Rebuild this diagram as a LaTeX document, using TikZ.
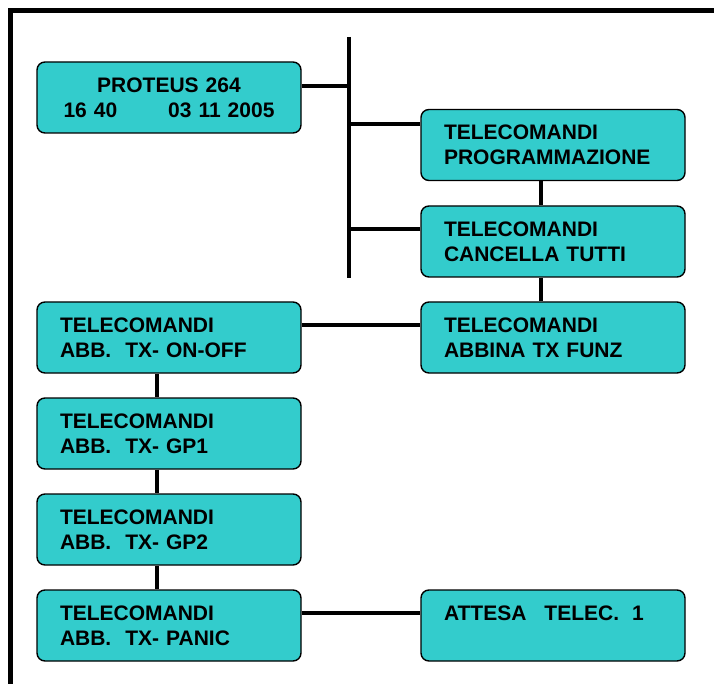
\documentclass[tikz,border=0pt]{standalone}
\usepackage{fontspec}
\setmainfont{Liberation Sans}
\definecolor{menucyan}{HTML}{33CCCC}

\tikzset{
menubox/.style={draw, line width=1.4pt, fill=menucyan, rounded corners=8pt,
  minimum width=264pt, minimum height=71pt, text width=218pt,
  inner xsep=23pt, inner ysep=0pt, align=left,
  font=\bfseries\fontsize{21}{25}\selectfont},
link/.style={line width=4pt}
}

\begin{document}
\begin{tikzpicture}[x=1pt,y=-1pt]
\useasboundingbox (0,0) rectangle (714,684);

\draw [line width=5pt] (10,684)--(10,10.5)--(714,10.5);

\node [menubox, align=center] (proteus) at (169,97.5) {PROTEUS 264\\16 40\hspace{51pt}03 11 2005\hspace*{8pt}};

\node [menubox] (prog) at (553,145) {TELECOMANDI\\PROGRAMMAZIONE};
\node [menubox] (canc) at (553,241.5) {TELECOMANDI\\CANCELLA TUTTI};
\node [menubox] (abbina) at (553,337.5) {TELECOMANDI\\ABBINA TX FUNZ};

\node [menubox] (onoff) at (169,337.5) {TELECOMANDI\\ABB.~~TX- ON-OFF};
\node [menubox] (gp1) at (169,433.5) {TELECOMANDI\\ABB.~~TX- GP1};
\node [menubox] (gp2) at (169,529.5) {TELECOMANDI\\ABB.~~TX- GP2};
\node [menubox] (panic) at (169,625.5) {TELECOMANDI\\ABB.~~TX- PANIC};

\node [menubox] (attesa) at (553,625.5) {ATTESA\hspace{18pt}TELEC.\hspace{13pt}1\\\mbox{}};

\coordinate (bustop) at (349,37);
\coordinate (busbot) at (349,278);
\draw [link] (bustop)--(busbot);

\draw [link] ([yshift=-25pt]proteus.north east)--([yshift=-25pt]proteus.north east -| bustop);
\draw [link] ([yshift=-15pt]prog.north west)--([yshift=-15pt]prog.north west -| bustop);
\draw [link] ([yshift=-24pt]canc.north west)--([yshift=-24pt]canc.north west -| bustop);

\draw [link] ([xshift=-12pt]prog.south)--([xshift=-12pt]canc.north);
\draw [link] ([xshift=-12pt]canc.south)--([xshift=-12pt]abbina.north);

\draw [link] ([yshift=-24pt]onoff.north east)--([yshift=-24pt]abbina.north west);

\draw [link] ([xshift=-12pt]onoff.south)--([xshift=-12pt]gp1.north);
\draw [link] ([xshift=-12pt]gp1.south)--([xshift=-12pt]gp2.north);
\draw [link] ([xshift=-12pt]gp2.south)--([xshift=-12pt]panic.north);

\draw [link] ([yshift=-24pt]panic.north east)--([yshift=-24pt]attesa.north west);
\end{tikzpicture}
\end{document}
